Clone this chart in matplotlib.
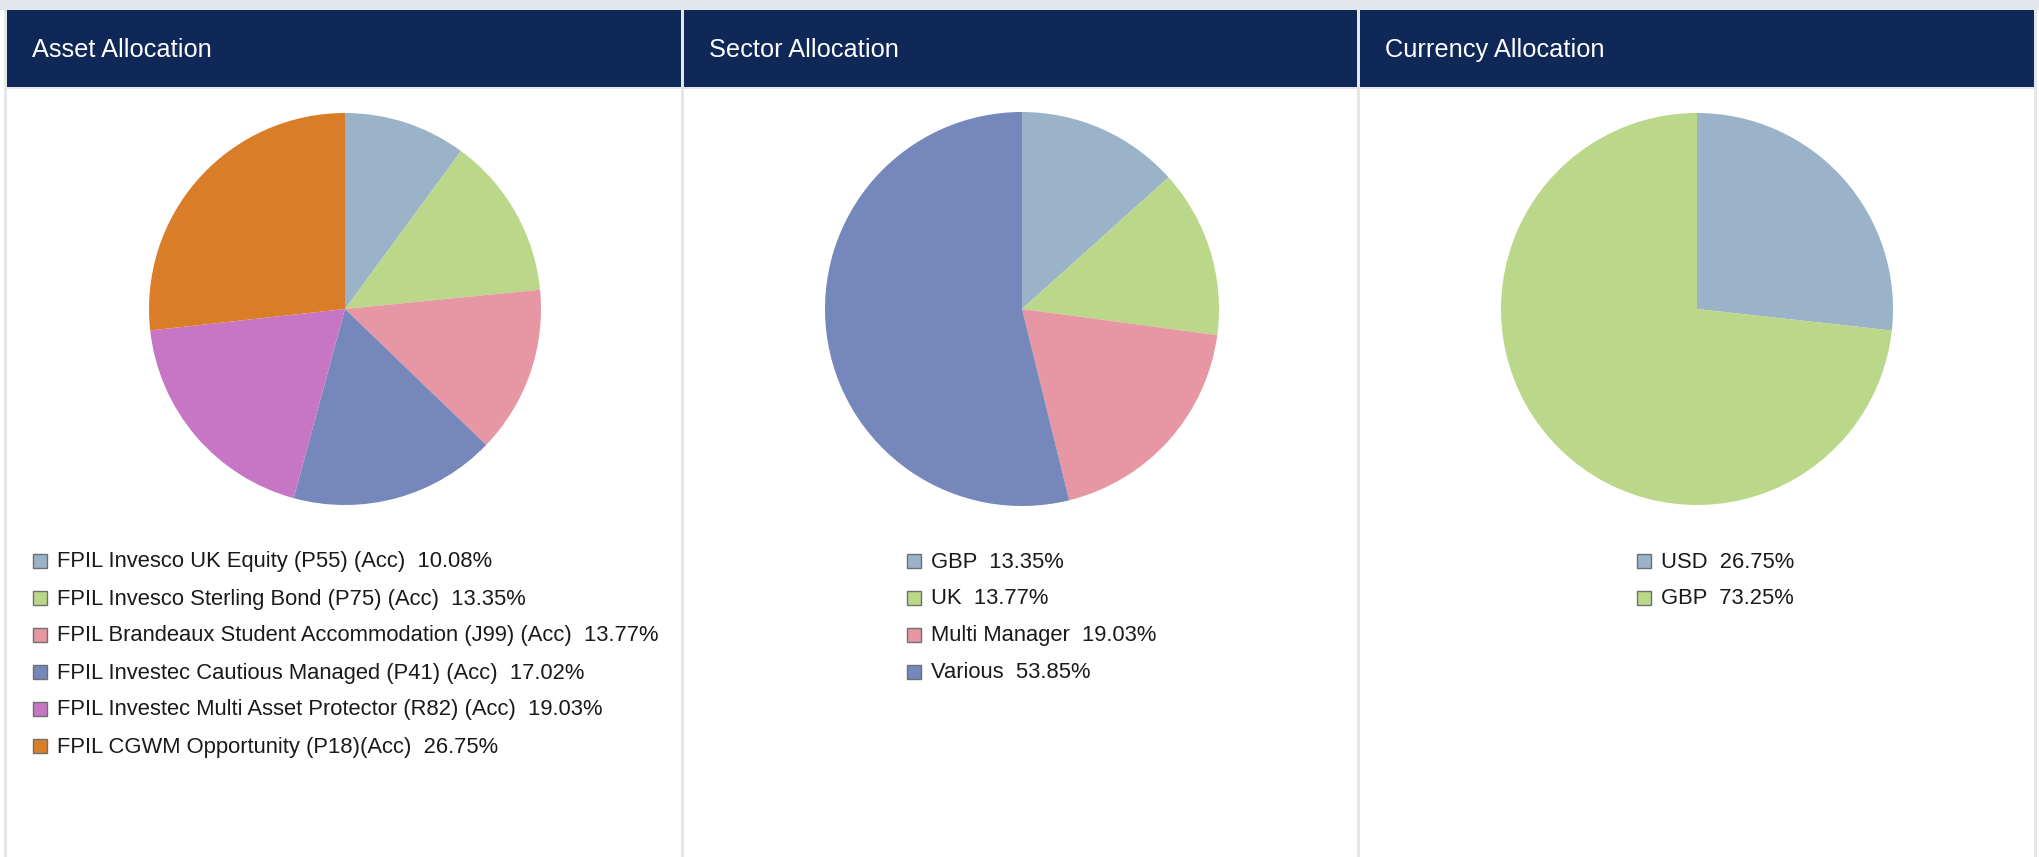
import matplotlib
matplotlib.use("Agg")
import matplotlib.pyplot as plt
from matplotlib.patches import Rectangle

plt.rcParams['font.family'] = ['Liberation Sans', 'DejaVu Sans']

# ---- data ----
asset_labels = ["FPIL Invesco UK Equity (P55) (Acc)",
                "FPIL Invesco Sterling Bond (P75) (Acc)",
                "FPIL Brandeaux Student Accommodation (J99) (Acc)",
                "FPIL Investec Cautious Managed (P41) (Acc)",
                "FPIL Investec Multi Asset Protector (R82) (Acc)",
                "FPIL CGWM Opportunity (P18)(Acc)"]
asset_values = [10.08, 13.35, 13.77, 17.02, 19.03, 26.75]

sector_labels = ["GBP", "UK", "Multi Manager", "Various"]
sector_values = [13.35, 13.77, 19.03, 53.85]

currency_labels = ["USD", "GBP"]
currency_values = [26.75, 73.25]

titles = ["Asset Allocation", "Sector Allocation", "Currency Allocation"]

palette = ["#9bb3c8", "#bad78a", "#e796a4", "#7587bb", "#c776c6", "#da7d28"]
header_col = "#0f2858"
border_col = "#e3e7ec"

W, H = 2039, 857
fig = plt.figure(figsize=(W / 100, H / 100), dpi=100)
fig.patch.set_facecolor("white")

bg = fig.add_axes([0, 0, 1, 1])
bg.set_xlim(0, W)
bg.set_ylim(H, 0)
bg.axis("off")

# top strip
bg.add_patch(Rectangle((0, 0), W, 10, color=border_col, lw=0))

panels_x = [(4, 681), (681, 1357), (1357, 2034)]
for (x0, x1), t in zip(panels_x, titles):
    bg.add_patch(Rectangle((x0, 10), 3, H - 10, color=border_col, lw=0))
    bg.add_patch(Rectangle((x0 + 3, 10), x1 - x0 - 3, 77, color=header_col, lw=0))
    bg.add_patch(Rectangle((x0 + 3, 87), x1 - x0 - 3, 2, color=border_col, lw=0))
    bg.text(x0 + 28, 50, t, color="white", fontsize=18.3, va="center", ha="left")
bg.add_patch(Rectangle((2034, 10), 3, H - 10, color=border_col, lw=0))


def draw_pie(cx, cy, r, values, colors):
    ax = fig.add_axes([(cx - r) / W, 1 - (cy + r) / H, 2 * r / W, 2 * r / H])
    ax.pie(values, colors=colors, startangle=90, counterclock=False,
           wedgeprops=dict(linewidth=0))
    ax.set_xlim(-1, 1)
    ax.set_ylim(-1, 1)
    ax.set_aspect("equal")
    ax.axis("off")


def draw_legend(x_sq, y0, labels, values, colors, dy=37):
    for i, (lab, v, c) in enumerate(zip(labels, values, colors)):
        y = y0 + i * dy
        bg.add_patch(Rectangle((x_sq, y - 8), 14, 14, facecolor=c,
                               edgecolor="#6f6f6f", lw=1))
        bg.text(x_sq + 24, y, f"{lab}  {v:.2f}%", fontsize=15.8,
                color="#1a1a1a", va="center", ha="left")


draw_pie(345, 309, 196, asset_values, palette[:6])
draw_pie(1022, 309, 197, sector_values, palette[:4])
draw_pie(1697, 309, 196, currency_values, palette[:2])

draw_legend(33, 562, asset_labels, asset_values, palette[:6])
draw_legend(907, 562, sector_labels, sector_values, palette[:4])
draw_legend(1637, 562, currency_labels, currency_values, palette[:2])

fig.savefig("out.png", dpi=100, facecolor="white")
